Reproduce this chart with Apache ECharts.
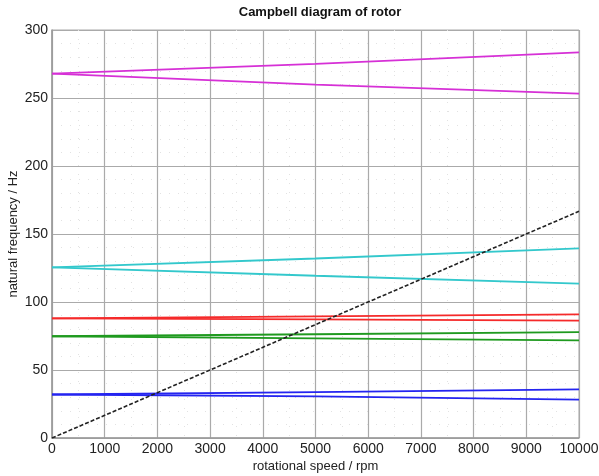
<!DOCTYPE html>
<html>
<head>
<meta charset="utf-8">
<script src="https://cdn.jsdelivr.net/npm/echarts@6/dist/echarts.min.js"></script>
<style>
  html, body { margin: 0; padding: 0; background: #fff; }
  #chart { width: 599px; height: 476px; }
</style>
</head>
<body>
<div id="chart"></div>
<script>
// rotational speeds where the curves were read (rpm)
const speeds = [0, 5000, 10000]

// natural frequencies (Hz), forward / backward whirl per mode
const mode1Fwd = [32.0, 33.7, 35.7]
const mode1Bwd = [32.0, 30.6, 28.2]
const mode2Fwd = [74.8, 76.3, 77.9]
const mode2Bwd = [74.8, 73.3, 71.8]
const mode3Fwd = [88.0, 89.4, 90.9]
const mode3Bwd = [88.0, 87.2, 86.3]
const mode4Fwd = [125.4, 132.0, 139.4]
const mode4Bwd = [125.4, 119.3, 113.5]
const mode5Fwd = [267.9, 275.1, 283.5]
const mode5Bwd = [267.9, 259.9, 253.2]

// 1x excitation line (rpm / 60)
const excitationSpeeds = [0, 10000]
const excitation = [0, 166.7]

const xTicks = { min: 0, max: 10000, interval: 1000 }
const yTicks = { min: 0, max: 300, interval: 50 }

const pairs = (xs, ys) => xs.map((x, i) => [x, ys[i]])

const modes = [
  { fwd: mode1Fwd, bwd: mode1Bwd, color: '#2424f0' },
  { fwd: mode2Fwd, bwd: mode2Bwd, color: '#1f9a1f' },
  { fwd: mode3Fwd, bwd: mode3Bwd, color: '#f52a2a' },
  { fwd: mode4Fwd, bwd: mode4Bwd, color: '#33c8cc' },
  { fwd: mode5Fwd, bwd: mode5Bwd, color: '#d630d6' },
]

const series = []
modes.forEach(m => {
  ;[m.fwd, m.bwd].forEach(vals => {
    series.push({
      type: 'line',
      data: pairs(speeds, vals),
      showSymbol: false,
      silent: true,
      lineStyle: { color: m.color, width: 1.8 },
    })
  })
})
series.push({
  type: 'line',
  data: pairs(excitationSpeeds, excitation),
  showSymbol: false,
  silent: true,
  lineStyle: { color: '#222', width: 1.6, type: [4, 2] },
})

const font = 'Liberation Sans, Arial, sans-serif'
const chart = echarts.init(document.getElementById('chart'), null, { renderer: 'canvas' })
chart.setOption({
  animation: false,
  backgroundColor: '#fff',
  title: {
    text: 'Campbell diagram of rotor',
    left: 315,
    top: 1,
    textAlign: 'center',
    textStyle: { fontFamily: font, fontSize: 13, fontWeight: 'bold', color: '#111' },
  },
  grid: {
    left: 52, right: 20, top: 30, bottom: 38,
    containLabel: false, outerBoundsMode: 'none',
    show: true, borderColor: '#aaa', borderWidth: 1,
  },
  xAxis: {
    type: 'value',
    ...xTicks,
    name: 'rotational speed / rpm',
    nameLocation: 'middle',
    nameGap: 22,
    nameMoveOverlap: false,
    nameTextStyle: { fontFamily: font, fontSize: 13, color: '#222' },
    axisLine: { show: true, lineStyle: { color: '#999', width: 1.5 } },
    axisTick: { show: false },
    axisLabel: { fontFamily: font, fontSize: 14, color: '#222', margin: 4, formatter: v => String(v) },
    splitLine: { lineStyle: { color: '#aaa', width: 1.2 } },
    minorTick: { show: false, splitNumber: 2 },
    minorSplitLine: { show: true, lineStyle: { color: '#e2e2e2', width: 1, type: [1, 8] } },
  },
  yAxis: {
    type: 'value',
    ...yTicks,
    name: 'natural frequency / Hz',
    nameLocation: 'middle',
    nameGap: 32,
    nameMoveOverlap: false,
    nameTextStyle: { fontFamily: font, fontSize: 13, color: '#222' },
    axisLine: { show: true, lineStyle: { color: '#999', width: 1.5 } },
    axisTick: { show: false },
    axisLabel: { fontFamily: font, fontSize: 14, color: '#222', margin: 4 },
    splitLine: { lineStyle: { color: '#aaa', width: 1.2 } },
    minorTick: { show: false, splitNumber: 5 },
    minorSplitLine: { show: true, lineStyle: { color: '#e2e2e2', width: 1, type: [1, 8] } },
  },
  series,
})
</script>
</body>
</html>
